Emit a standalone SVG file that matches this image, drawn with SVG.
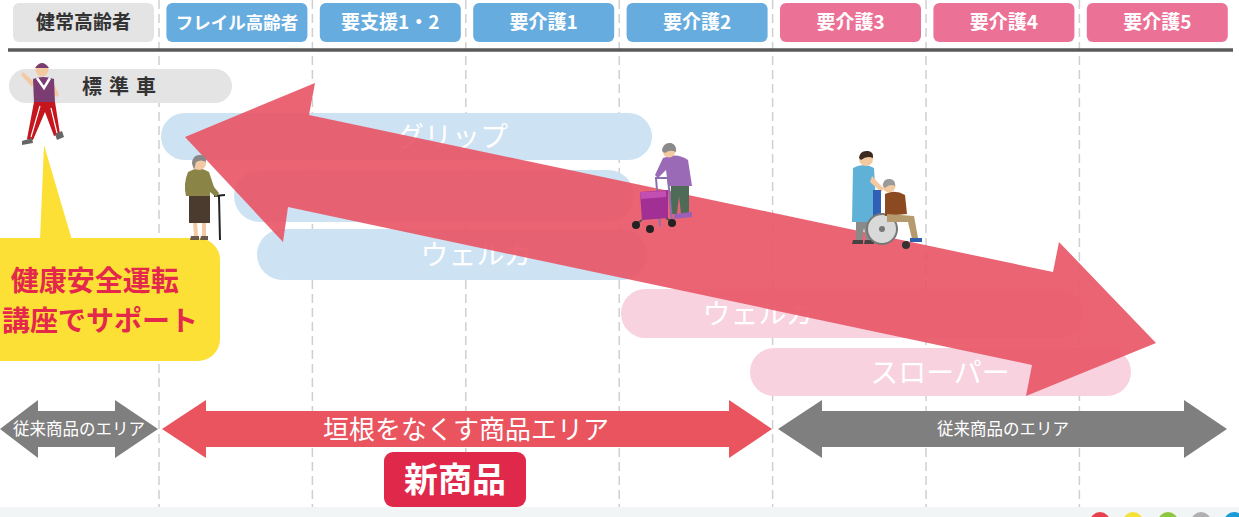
<svg xmlns="http://www.w3.org/2000/svg" width="1239" height="517" viewBox="0 0 1239 517">
  <style>
    .t { font-family: "Noto Sans CJK JP", "Noto Sans", sans-serif; }
    .hd { font-size: 19px; font-weight: 700; fill: #ffffff; text-anchor: middle; }
    .grid { stroke: #d0d0d0; stroke-width: 1.5; stroke-dasharray: 9 5; }
    .blue { fill: #67acdf; }
    .pink { fill: #ec7196; }
    .barB { fill: #cde2f3; }
    .barP { fill: #f8d2df; }
    .barT { font-size: 28px; fill: #ffffff; text-anchor: middle; }
    .skin { fill: #f3c9a2; }
  </style>

  <rect width="1239" height="517" fill="#ffffff"/>
  <rect x="0" y="507" width="1239" height="10" fill="#f2f5f5"/>

  <!-- column guides -->
  <g id="grid">
    <line class="grid" x1="159" y1="0" x2="159" y2="507"/>
    <line class="grid" x1="312.4" y1="0" x2="312.4" y2="507"/>
    <line class="grid" x1="465.8" y1="0" x2="465.8" y2="507"/>
    <line class="grid" x1="619.2" y1="0" x2="619.2" y2="507"/>
    <line class="grid" x1="772.6" y1="0" x2="772.6" y2="507"/>
    <line class="grid" x1="926" y1="0" x2="926" y2="507"/>
    <line class="grid" x1="1079.4" y1="0" x2="1079.4" y2="507"/>
  </g>

  <!-- header row -->
  <g id="header" class="t">
    <g id="h1"><rect x="13" y="3" width="141" height="39" rx="6" fill="#e4e4e4"/><text class="hd" x="83.5" y="29" style="fill:#333333">健常高齢者</text></g>
    <g id="h2"><rect class="blue" x="166.4" y="3" width="141" height="39" rx="6"/><text class="hd" x="236.9" y="29" style="font-size:17.5px">フレイル高齢者</text></g>
    <g id="h3"><rect class="blue" x="319.8" y="3" width="141" height="39" rx="6"/><text class="hd" x="390.3" y="29">要支援1・2</text></g>
    <g id="h4"><rect class="blue" x="473.2" y="3" width="141" height="39" rx="6"/><text class="hd" x="543.7" y="29">要介護1</text></g>
    <g id="h5"><rect class="blue" x="626.6" y="3" width="141" height="39" rx="6"/><text class="hd" x="697.1" y="29">要介護2</text></g>
    <g id="h6"><rect class="pink" x="780" y="3" width="141" height="39" rx="6"/><text class="hd" x="850.5" y="29">要介護3</text></g>
    <g id="h7"><rect class="pink" x="933.4" y="3" width="141" height="39" rx="6"/><text class="hd" x="1003.9" y="29">要介護4</text></g>
    <g id="h8"><rect class="pink" x="1086.8" y="3" width="141" height="39" rx="6"/><text class="hd" x="1157.3" y="29">要介護5</text></g>
  </g>
  <line x1="8" y1="50" x2="1233" y2="50" stroke="#5a5a5a" stroke-width="3.5"/>

  <!-- standard car label -->
  <g id="standard">
    <rect x="9" y="69" width="223" height="34" rx="17" fill="#e4e4e4"/>
    <text class="t" x="82" y="94" font-size="20" font-weight="700" fill="#333333" letter-spacing="7">標準車</text>
  </g>

  <!-- equipment bars -->
  <g id="bars" class="t">
    <g id="bar1"><rect class="barB" x="161" y="113" width="491" height="47" rx="23.5"/><text class="barT" x="452" y="147">グリップ</text></g>
    <g id="bar2"><rect class="barB" x="234" y="170" width="400" height="52" rx="26"/></g>
    <g id="bar3"><rect class="barB" x="257" y="229" width="390" height="51" rx="25.5"/><text class="barT" x="476" y="265">ウェルカ</text></g>
    <g id="bar4"><rect class="barP" x="621" y="289" width="462" height="49" rx="24.5"/><text class="barT" x="758" y="324">ウェルカ</text></g>
    <g id="bar5"><rect class="barP" x="750" y="348" width="381" height="48" rx="24"/><text class="barT" x="940" y="383">スローパー</text></g>
  </g>

  <!-- arrows -->
  <g id="connectors">
    <polygon id="span-arrow" points="185,137 315,83 309,115 1053,272 1059,242 1156,343 1026,396 1032,365 288,207 283,242" fill="#e85767" fill-opacity="0.92"/>
    <polygon id="left-area" points="0,429 38,400 38,411 115,411 115,400 158,429 115,458 115,447 38,447 38,458" fill="#7f7f7f"/>
    <polygon id="mid-area" points="162,429 206,400 206,411 729,411 729,400 772,429 729,458 729,447 206,447 206,458" fill="#e9545f"/>
    <polygon id="right-area" points="778,429 822,400 822,411 1184,411 1184,400 1227,429 1184,458 1184,447 822,447 822,458" fill="#7f7f7f"/>
  </g>

  <g id="area-labels" class="t" fill="#ffffff" text-anchor="middle">
    <text x="79" y="435" font-size="16.5">従来商品のエリア</text>
    <text x="466" y="438.5" font-size="26">垣根をなくす商品エリア</text>
    <text x="1003" y="435" font-size="16.5">従来商品のエリア</text>
  </g>

  <!-- new product badge -->
  <g id="new-product">
    <rect x="384" y="452" width="142" height="55" rx="9" fill="#e0284a"/>
    <text class="t" x="455" y="492" font-size="34" font-weight="700" fill="#ffffff" text-anchor="middle">新商品</text>
  </g>

  <!-- callout -->
  <g id="callout">
    <polygon points="40,240 72,240 44,145" fill="#fde036"/>
    <rect x="-20" y="238" width="240" height="123" rx="22" fill="#fde036"/>
    <text class="t" font-size="28" font-weight="700" fill="#e3284b" text-anchor="middle">
      <tspan x="98" y="291">健康安全運転</tspan>
      <tspan x="100" y="331">講座でサポート</tspan>
    </text>
  </g>

  <!-- walking man -->
  <g id="walker">
    <path d="M34,82 L23,72 L21,75 L32,87 Z" class="skin"/>
    <path d="M53,82 L59,95 L56,97 L50,86 Z" class="skin"/>
    <path d="M33,79 Q43,75 54,79 L55,103 L34,103 Z" fill="#7b3c72"/>
    <path d="M37,78 L44,88 L50,78" fill="none" stroke="#ffffff" stroke-width="2.5"/>
    <path d="M34,102 L55,102 L60,134 L54,136 L45,112 L33,140 L27,139 Z" fill="#c5161d"/>
    <path d="M40,106 L31,137 M51,108 L57,133" stroke="#ffffff" stroke-width="1.2"/>
    <path d="M22,141 L32,138 L33,143 L22,145 Z" fill="#666666"/>
    <path d="M55,134 L62,131 L64,137 L57,140 Z" fill="#666666"/>
    <circle cx="42" cy="70" r="6.5" class="skin"/>
    <path d="M35,68 Q42,58 49,68 Z" fill="#7b3c72"/>
  </g>

  <!-- woman with cane -->
  <g id="cane-user">
    <line x1="219" y1="196" x2="220" y2="240" stroke="#222222" stroke-width="2"/>
    <line x1="214" y1="196" x2="225" y2="195" stroke="#222222" stroke-width="2"/>
    <path d="M193,222 L197,222 L198,236 L194,236 Z M202,222 L206,222 L206,236 L202,236 Z" class="skin"/>
    <path d="M189,194 L210,194 L210,223 L189,223 Z" fill="#4b3b2f"/>
    <path d="M188,172 Q199,165 209,172 L214,187 L219,193 L216,197 L210,192 L210,196 L186,196 Q183,184 188,172 Z" fill="#8a8547"/>
    <path d="M191,236 L199,236 L199,240 L190,240 Z M201,236 L208,236 L208,240 L200,240 Z" fill="#6b5a4a"/>
    <circle cx="199" cy="163" r="7" class="skin"/>
    <path d="M192,163 Q193,154 201,155 Q207,156 206,162 Q201,159 196,162 L194,170 Z" fill="#888888"/>
  </g>

  <!-- woman with rollator -->
  <g id="rollator-user">
    <path d="M671,184 L689,184 L689,214 L681,214 L679,196 L677,214 L670,214 Z" fill="#4e6b57"/>
    <path d="M674,214 L692,212 L692,217 L674,219 Z" fill="#9b5fb8"/>
    <path d="M663,158 Q677,152 688,160 L692,186 L668,186 L666,170 L658,178 L655,175 Z" fill="#9b6ab6"/>
    <circle cx="669" cy="151" r="6.5" class="skin"/>
    <path d="M662,151 Q663,142 671,143 Q677,145 676,152 Q670,149 665,153 Z" fill="#8a8a8a"/>
    <path d="M656,178 L660,226 M668,178 L672,222 M655,178 L669,178" stroke="#8c6fae" stroke-width="2" fill="none"/>
    <path d="M640,192 L668,190 L668,218 L642,220 Z" fill="#a22f93"/>
    <path d="M640,192 L666,191 L666,197 L641,199 Z" fill="#c34fb3"/>
    <path d="M642,220 L636,224 M666,218 L672,222" stroke="#555555" stroke-width="2"/>
    <circle cx="636" cy="225" r="4" fill="#222222"/>
    <circle cx="650" cy="229" r="4" fill="#222222"/>
    <circle cx="672" cy="223" r="4" fill="#222222"/>
  </g>

  <!-- caregiver with wheelchair -->
  <g id="wheelchair">
    <path d="M856,222 L872,222 L871,240 L866,240 L864,228 L862,240 L856,240 Z" fill="#8a8a8a"/>
    <path d="M853,240 L863,240 L863,244 L852,244 Z M865,240 L874,240 L874,244 L864,244 Z" fill="#444444"/>
    <path d="M853,168 Q864,162 874,168 L877,222 L852,222 Z" fill="#5fb1d8"/>
    <path d="M872,176 L884,189 L881,192 L870,182 Z" class="skin"/>
    <circle cx="866" cy="159" r="7" class="skin"/>
    <path d="M859,158 Q860,150 868,151 Q874,152 873,158 Q867,155 861,160 Z" fill="#3a2a20"/>
    <rect x="873" y="190" width="8" height="32" fill="#2f5fb6"/>
    <circle cx="882" cy="229" r="15" fill="#d9d9d9" stroke="#777777" stroke-width="2"/>
    <circle cx="882" cy="229" r="3" fill="#777777"/>
    <path d="M885,194 Q895,189 905,195 L907,214 L885,216 Z" fill="#8c4a20"/>
    <path d="M887,214 L914,216 L918,238 L912,239 L908,222 L887,222 Z" fill="#b49a6c"/>
    <path d="M910,238 L922,238 L922,242 L910,242 Z" fill="#2d5fb0"/>
    <circle cx="889" cy="186" r="6.5" class="skin"/>
    <path d="M883,186 Q883,178 890,179 Q896,180 895,186 Q890,183 885,188 Z" fill="#9a9a9a"/>
    <circle cx="906" cy="245" r="4" fill="#333333"/>
  </g>

  <!-- footer dots -->
  <g id="footer-dots">
    <circle cx="1100" cy="522" r="10" fill="#e8404f"/>
    <circle cx="1133" cy="522" r="10" fill="#f6e13a"/>
    <circle cx="1168" cy="522" r="10" fill="#8cc63f"/>
    <circle cx="1201" cy="522" r="10" fill="#b0b0b0"/>
    <circle cx="1234" cy="522" r="10" fill="#1a9ad6"/>
  </g>
</svg>
